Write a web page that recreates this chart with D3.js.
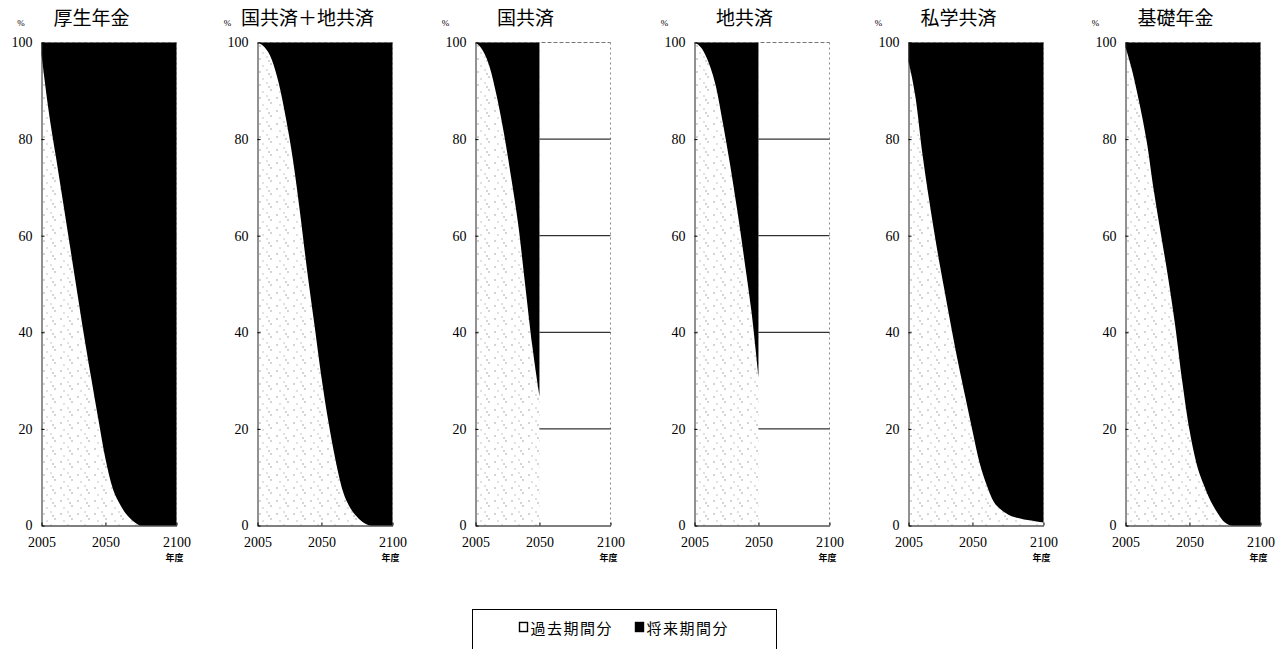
<!DOCTYPE html>
<html>
<head>
<meta charset="utf-8">
<script src="https://cdn.jsdelivr.net/npm/d3@7"></script>
<style>
  body { margin: 0; background: #fff; }
</style>
</head>
<body>
<div id="chart"></div>
<script>
// 年度 (5-year steps)
let years = [2005, 2010, 2015, 2020, 2025, 2030, 2035, 2040, 2045, 2050,
             2055, 2060, 2065, 2070, 2075, 2080, 2085, 2090, 2095, 2100];

// 過去期間分 share (%) ; the rest up to 100 is 将来期間分
let kosei    = [97.5, 85.9, 76.6, 67.3, 57.9, 48.5, 39.2, 30.5, 22, 13.8,
                7.8, 4.5, 2.2, 0.8, 0, 0, 0, 0, 0, 0];
let kokuChi  = [100, 99, 96.5, 91.5, 84.3, 75.6, 64.6, 52.6, 41.7, 30.7,
                21.3, 13.4, 7.2, 3.8, 1.8, 0.5, 0, 0, 0, 0];
let koku     = [100, 98.4, 94.9, 88.8, 81.2, 72.2, 62.5, 49.7, 37.1, 26.7];
let chi      = [100, 98.8, 95.8, 91, 83.3, 74.8, 65.4, 55.2, 44.5, 30.8];
let shigaku  = [96, 88.5, 76.5, 66.5, 57.4, 49.2, 41.2, 33.6, 26.6, 19.6,
                13, 8.4, 4.9, 3.3, 2.3, 1.7, 1.35, 1.1, 0.85, 0.6];
let kiso     = [99, 93.8, 87.1, 79.4, 69.2, 60.2, 51.3, 41.3, 29.7, 19.8,
                12.8, 8.5, 5, 2.5, 0.6, 0, 0, 0, 0, 0];

let titles = ["厚生年金", "国共済＋地共済", "国共済", "地共済", "私学共済", "基礎年金"];
let yTicks = [0, 20, 40, 60, 80, 100];
let gridTicks = [20, 40, 60, 80];
let xTicks = [2005, 2050, 2100];
let legendLabels = ["過去期間分", "将来期間分"];

let seriesValues = [kosei, kokuChi, koku, chi, shigaku, kiso];

let W = 1286, H = 649;
let plotLefts = [41.5, 257.5, 475.5, 694.5, 908.5, 1125.5];
let plotTop = 42.5;
let pw = 135, ph = 483;

let serif = "'Liberation Serif', 'DejaVu Serif', serif";
let cjk = "'Noto Sans CJK JP', 'Noto Sans CJK SC', sans-serif";

let svg = d3.select('#chart')
    .append('svg')
        .attr('width', W)
        .attr('height', H);

// light print speckle for the white (past) part
let pat = svg.append('defs').append('pattern')
    .attr('id', 'speckle')
    .attr('patternUnits', 'userSpaceOnUse')
    .attr('width', 17).attr('height', 13);
pat.append('rect').attr('width', 17).attr('height', 13).attr('fill', '#fff');
[[2, 3], [9, 1], [13, 8], [5, 10], [11, 5]].forEach(function (p, k) {
    pat.append('rect')
        .attr('x', p[0]).attr('y', p[1])
        .attr('width', 1).attr('height', 1)
        .attr('fill', k % 2 ? '#888' : '#555');
});

let x = d3.scaleLinear().domain([2005, 2100]).range([0, pw]);
let y = d3.scaleLinear().domain([0, 100]).range([ph, 0]);

seriesValues.forEach(function (values, i) {
    let left = plotLefts[i];
    let data = values.map(function (v, j) {
        return { year: years[j], v: v };
    });
    let lastYear = data[data.length - 1].year;

    let g = svg.append('g')
        .attr('transform', "translate(" + left + "," + plotTop + ")");

    // frame (top / right), greyish dashed like the print
    g.append('line')
        .attr('x1', 0).attr('x2', pw).attr('y1', 0).attr('y2', 0)
        .attr('stroke', '#777').attr('stroke-dasharray', '4,2');
    g.append('line')
        .attr('x1', pw).attr('x2', pw).attr('y1', 0).attr('y2', ph)
        .attr('stroke', '#888').attr('stroke-dasharray', '2,3');

    // gridlines, hidden behind the areas where there is data
    g.selectAll('.grid')
        .data(gridTicks)
        .enter()
        .append('line')
            .attr('class', 'grid')
            .attr('x1', 0).attr('x2', pw)
            .attr('y1', function (d) { return y(d); })
            .attr('y2', function (d) { return y(d); })
            .attr('stroke', '#000');

    // future share (black) : from value to 100
    let futureArea = d3.area()
        .x(function (d) { return x(d.year); })
        .y0(function (d) { return y(d.v); })
        .y1(y(100))
        .curve(d3.curveMonotoneX);

    // past share : everything under the black part up to the last year
    g.append('rect')
        .attr('x', 0).attr('y', 0)
        .attr('width', x(lastYear)).attr('height', ph)
        .attr('fill', 'url(#speckle)');

    g.append('path')
        .datum(data)
        .attr('d', futureArea)
        .attr('fill', '#000');

    // axes
    let yAxisCall = d3.axisLeft(y)
        .tickValues(yTicks)
        .tickSize(-3)
        .tickSizeOuter(0)
        .tickPadding(9);
    let yAxisGroup = g.append('g').call(yAxisCall);
    yAxisGroup.attr('font-size', 14);
    yAxisGroup.selectAll('text').style('font-family', serif);
    yAxisGroup.select('.domain').attr('stroke', '#222');

    let xAxisCall = d3.axisBottom(x)
        .tickValues(xTicks)
        .tickFormat(d3.format('d'))
        .tickSize(-3)
        .tickSizeOuter(0)
        .tickPadding(12);
    let xAxisGroup = g.append('g')
        .attr('transform', "translate(0," + ph + ")")
        .call(xAxisCall);
    xAxisGroup.attr('font-size', 14);
    xAxisGroup.selectAll('text').style('font-family', serif);

    // 年度
    g.append('text')
        .attr('x', pw - 2)
        .attr('y', ph + 35)
        .attr('text-anchor', 'middle')
        .style('font-family', cjk)
        .attr('font-size', 9)
        .attr('font-weight', 'bold')
        .text("年度");

    // % unit
    svg.append('text')
        .attr('x', Math.max(left - 30, 21))
        .attr('y', 26)
        .attr('text-anchor', 'middle')
        .style('font-family', serif)
        .attr('font-size', 9)
        .text("%");

    // panel title
    svg.append('text')
        .attr('x', left + 50)
        .attr('y', 16)
        .attr('text-anchor', 'middle')
        .attr('dominant-baseline', 'central')
        .style('font-family', cjk)
        .attr('font-size', 19)
        .text(titles[i]);
});

// Legend
let legend = svg.append('g');
legend.append('rect')
    .attr('x', 472.5).attr('y', 609.5)
    .attr('width', 304).attr('height', 60)
    .attr('fill', '#fff')
    .attr('stroke', '#000');

let legendX = [519.5, 635.5];
let legendFill = ['#fff', '#000'];

legend.selectAll('.sw')
    .data(legendLabels)
    .enter()
    .append('rect')
        .attr('class', 'sw')
        .attr('x', function (d, k) { return legendX[k]; })
        .attr('y', 622.5)
        .attr('width', 8)
        .attr('height', 9)
        .attr('fill', function (d, k) { return legendFill[k]; })
        .attr('stroke', '#000')
        .attr('stroke-width', 1.4);

legend.selectAll('.lt')
    .data(legendLabels)
    .enter()
    .append('text')
        .attr('class', 'lt')
        .attr('x', function (d, k) { return legendX[k] + 11; })
        .attr('y', 627)
        .attr('dominant-baseline', 'central')
        .style('font-family', cjk)
        .attr('font-size', 15)
        .attr('letter-spacing', 1.5)
        .text(function (d) { return d; });
</script>
</body>
</html>
